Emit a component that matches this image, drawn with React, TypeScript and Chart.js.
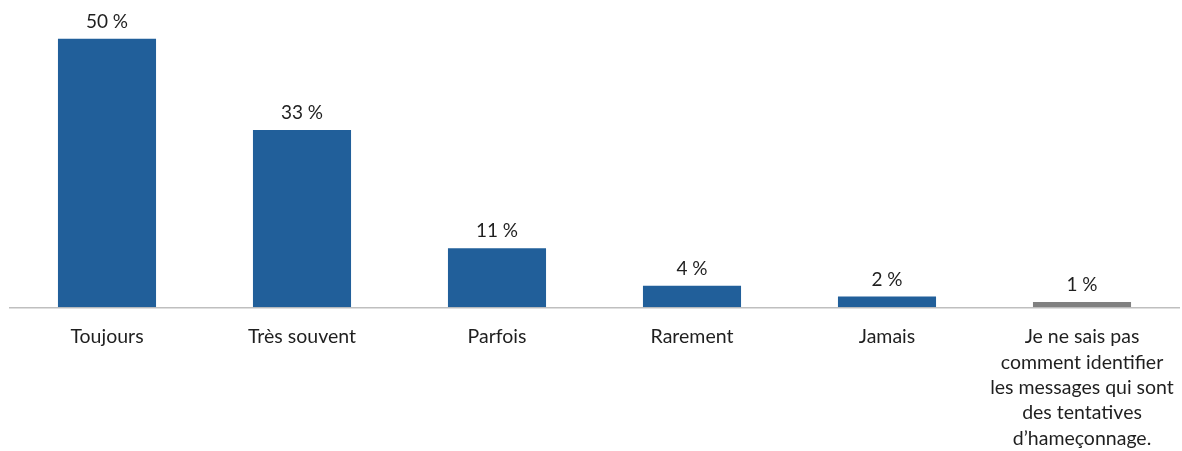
import React, { useEffect, useRef } from "react";
import { Chart, registerables } from "chart.js";

Chart.register(...registerables);

const categories: (string | string[])[] = [
  "Toujours",
  "Très souvent",
  "Parfois",
  "Rarement",
  "Jamais",
  ["Je ne sais pas", "comment identifier", "les messages qui sont", "des tentatives", "d’hameçonnage."],
];
const values = [50, 33, 11, 4, 2, 1];
const barColors = ["#215F9A", "#215F9A", "#215F9A", "#215F9A", "#215F9A", "#808080"];

const FONT = "Lato, 'Open Sans', sans-serif";

const labelPlugin = {
  id: "valueLabels",
  afterDatasetsDraw(chart: any) {
    const ctx = chart.ctx;
    const meta = chart.getDatasetMeta(0);
    ctx.save();
    ctx.font = `19px ${FONT}`;
    ctx.fillStyle = "#1f1f1f";
    ctx.textAlign = "center";
    ctx.textBaseline = "middle";
    meta.data.forEach((bar: any, i: number) => {
      ctx.fillText(`${values[i]} %`, bar.x, bar.y - 17);
    });
    ctx.restore();
  },
};

export default function App() {
  const ref = useRef<HTMLCanvasElement>(null);
  useEffect(() => {
    document.body.style.margin = "0";
    const chart = new Chart(ref.current!, {
      type: "bar",
      data: {
        labels: categories,
        datasets: [
          {
            data: values,
            backgroundColor: barColors,
            borderWidth: 0,
            categoryPercentage: 1,
            barPercentage: 0.503,
          },
        ],
      },
      options: {
        animation: false,
        responsive: false,
        maintainAspectRatio: false,
        layout: { padding: { left: 9.5, right: 2.5, top: 12, bottom: -2 } },
        plugins: { legend: { display: false }, tooltip: { enabled: false } },
        scales: {
          x: {
            grid: { display: false, drawTicks: true, tickLength: 15 },
            border: { display: true, color: "#BFBFBF", width: 1.5 },
            ticks: {
              autoSkip: false,
              maxRotation: 0,
              minRotation: 0,
              padding: 2,
              color: "#1f1f1f",
              font: { family: FONT, size: 19.5, lineHeight: 1.3 },
            },
          },
          y: {
            display: false,
            min: 0,
            max: 55,
            grid: { display: false },
          },
        },
      },
      plugins: [labelPlugin],
    });
    return () => chart.destroy();
  }, []);
  return (
    <div style={{ width: 1182, height: 451 }}>
      <canvas ref={ref} width={1182} height={451} />
    </div>
  );
}
